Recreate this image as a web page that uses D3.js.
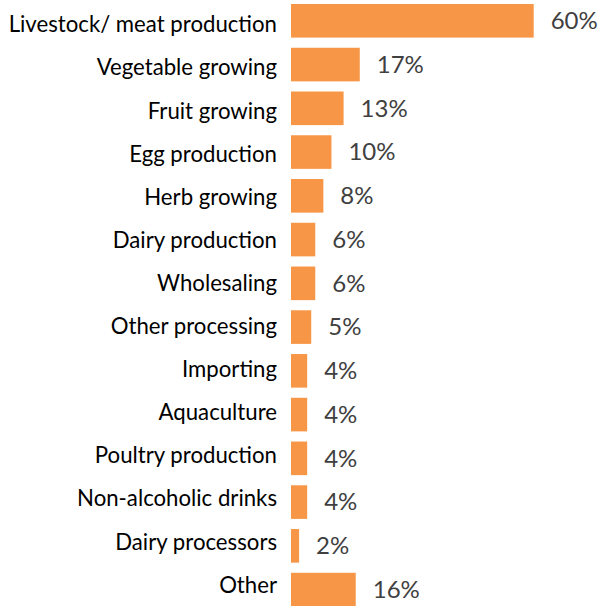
<!DOCTYPE html>
<html>
<head>
<meta charset="utf-8">
<script src="https://cdn.jsdelivr.net/npm/d3@7"></script>
<style>
  html, body { margin: 0; padding: 0; background: #fff; }
  svg { display: block; }
</style>
</head>
<body>
<svg id="chart" width="605" height="606"></svg>
<script>
// Share of businesses by activity (%)
const categories = [
  "Livestock/ meat production",
  "Vegetable growing",
  "Fruit growing",
  "Egg production",
  "Herb growing",
  "Dairy production",
  "Wholesaling",
  "Other processing",
  "Importing",
  "Aquaculture",
  "Poultry production",
  "Non-alcoholic drinks",
  "Dairy processors",
  "Other"
];
const values = [60, 17, 13, 10, 8, 6, 6, 5, 4, 4, 4, 4, 2, 16];

const svg = d3.select("#chart");

const x = d3.scaleLinear().domain([0, 60]).range([291, 533.7]);

const y = d3.scaleBand()
  .domain(categories)
  .range([4, 606.4])
  .paddingInner(0.232)
  .paddingOuter(0);

// Category labels sit on their own evenly spaced baselines
const yLabel = d3.scalePoint()
  .domain(categories)
  .range([32.3, 592.7]);

const rows = categories.map((c, i) => ({ name: c, value: values[i] }));

svg.append("g")
  .selectAll("rect")
  .data(rows)
  .join("rect")
  .attr("x", x(0))
  .attr("y", d => y(d.name))
  .attr("width", d => x(d.value) - x(0))
  .attr("height", y.bandwidth())
  .attr("fill", "#F79646");

svg.append("g")
  .selectAll("text")
  .data(rows)
  .join("text")
  .attr("x", 277)
  .attr("y", d => yLabel(d.name))
  .attr("text-anchor", "end")
  .attr("font-family", "Lato, 'Open Sans', sans-serif")
  .attr("font-size", 22.2)
  .attr("fill", "#000")
  .text(d => d.name);

svg.append("g")
  .selectAll("text")
  .data(rows)
  .join("text")
  .attr("x", d => x(d.value) + 17)
  .attr("y", d => y(d.name) + y.bandwidth() / 2 + 8.3)
  .attr("font-family", "Lato, 'Open Sans', sans-serif")
  .attr("font-size", 24)
  .attr("fill", "#404040")
  .text(d => d.value + "%");
</script>
</body>
</html>
